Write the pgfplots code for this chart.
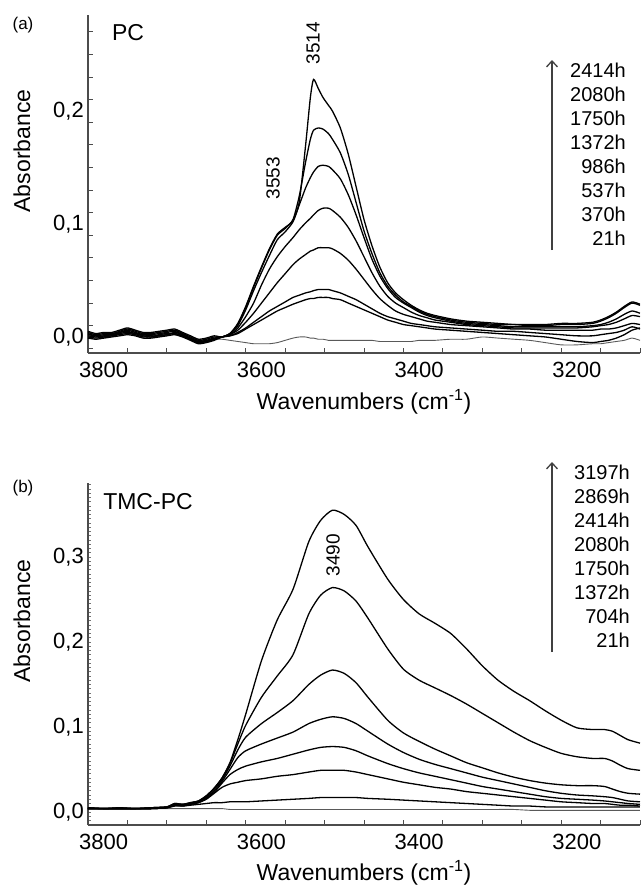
\documentclass[border=0pt]{standalone}
\usepackage{fontspec}
\setmainfont{Liberation Sans}
\usepackage{pgfplots}
\usepackage{pgfplotstable}
\pgfplotsset{compat=1.18}
\usetikzlibrary{arrows.meta}

\pgfplotstableread{
x h2414 h2080 h1750 h1372 h986 h537 h370 h21
3800 .005 .004 .003 .002 .001 .000 -.001 .002
3790 .003 .002 .001 .001 .000 -.001 -.002 .001
3780 .004 .003 .002 .000 .001 .000 -.001 .001
3770 .004 .003 .002 .001 .002 .001 .000 .002
3760 .006 .005 .004 .003 .004 .002 .001 .003
3750 .008 .007 .006 .004 .005 .003 .002 .004
3740 .006 .005 .004 .003 .003 .002 .001 .002
3730 .004 .003 .002 .001 .002 .000 -.001 .001
3720 .004 .003 .002 .000 .001 .000 -.001 .001
3710 .005 .004 .003 .002 .001 .001 .000 .002
3700 .006 .005 .004 .003 .002 .002 .001 .003
3690 .007 .006 .005 .003 .004 .003 .002 .003
3680 .004 .003 .002 .001 .002 .001 .000 .001
3670 .001 .000 -.001 -.002 -.002 -.002 -.003 -.001
3660 -.002 -.003 -.004 -.005 -.004 -.005 -.006 -.003
3650 -.001 -.002 -.003 -.004 -.004 -.004 -.005 -.003
3640 .001 .000 -.001 -.002 -.002 -.002 -.003 -.002
3630 .000 .000 .000 .000 .000 .000 .000 -.002
3620 .003 .003 .003 .002 .002 .001 .001 -.003
3610 .012 .011 .010 .008 .006 .004 .003 -.004
3600 .027 .026 .024 .018 .013 .008 .007 -.005
3590 .045 .044 .041 .030 .021 .013 .011 -.006
3580 .062 .061 .057 .046 .030 .018 .015 -.006
3570 .078 .077 .072 .060 .039 .023 .019 -.006
3560 .091 .090 .086 .071 .048 .027 .023 -.005
3550 .097 .096 .093 .080 .056 .031 .026 -.003
3540 .103 .104 .102 .088 .064 .035 .029 -.001
3532 .120 .125 .117 .095 .069 .037 .031 .000
3524 .170 .155 .132 .101 .073 .039 .033 .000
3518 .212 .175 .141 .105 .076 .040 .034 -.001
3514 .228 .183 .146 .108 .077 .041 .034 -.001
3508 .220 .185 .151 .112 .079 .042 .035 -.002
3502 .212 .184 .152 .114 .079 .042 .035 -.002
3495 .205 .180 .151 .114 .079 .042 .035 -.003
3490 .200 .175 .148 .112 .078 .041 .034 -.003
3480 .185 .163 .140 .106 .074 .039 .033 -.003
3470 .162 .144 .126 .097 .068 .036 .030 -.003
3460 .133 .119 .108 .085 .060 .033 .027 -.003
3450 .104 .094 .088 .071 .051 .029 .024 -.003
3440 .081 .074 .069 .057 .042 .025 .021 -.003
3430 .062 .057 .054 .045 .034 .021 .018 -.004
3420 .048 .045 .043 .036 .028 .018 .015 -.004
3410 .039 .037 .035 .030 .023 .016 .013 -.004
3400 .033 .031 .030 .026 .020 .014 .011 -.004
3390 .028 .027 .026 .022 .018 .012 .010 -.004
3380 .024 .023 .022 .019 .016 .011 .009 -.003
3370 .021 .020 .019 .017 .014 .010 .008 -.003
3360 .019 .018 .017 .015 .013 .009 .007 -.003
3340 .016 .015 .014 .013 .011 .008 .006 -.002
3320 .014 .013 .012 .011 .010 .007 .005 -.002
3300 .013 .012 .011 .010 .009 .006 .004 .000
3280 .012 .011 .010 .009 .008 .005 .003 -.001
3260 .011 .011 .009 .008 .007 .005 .002 -.002
3240 .011 .010 .009 .008 .007 .004 .001 -.003
3220 .011 .010 .009 .008 .006 .003 .000 -.005
3200 .012 .011 .009 .008 .006 .002 -.002 -.007
3180 .012 .011 .009 .008 .006 .001 -.004 -.007
3160 .013 .012 .010 .009 .006 .001 -.005 -.006
3150 .015 .014 .011 .010 .007 .002 -.004 -.006
3140 .018 .017 .013 .011 .007 .003 -.003 -.005
3130 .022 .021 .016 .013 .008 .004 -.001 -.004
3120 .027 .026 .020 .016 .010 .006 .002 -.003
3110 .031 .030 .023 .019 .012 .009 .006 -.001
3100 .029 .028 .021 .018 .011 .007 .008 -.003
}\pcdata

\pgfplotstableread{
x h3197 h2869 h2414 h2080 h1750 h1372 h704 h21
3800 .005 .005 .005 .004 .004 .004 .004 .004
3780 .004 .004 .004 .004 .004 .004 .004 .004
3760 .005 .005 .004 .004 .004 .004 .004 .004
3740 .004 .004 .004 .004 .004 .004 .004 .004
3720 .005 .005 .005 .004 .004 .004 .004 .004
3700 .006 .006 .006 .005 .005 .005 .005 .004
3690 .010 .010 .009 .009 .008 .008 .007 .004
3680 .009 .009 .009 .008 .008 .007 .007 .004
3670 .011 .011 .010 .010 .009 .009 .008 .004
3660 .013 .013 .012 .012 .011 .011 .009 .004
3650 .019 .019 .018 .017 .016 .015 .010 .004
3640 .028 .028 .027 .025 .023 .022 .011 .004
3630 .040 .040 .038 .036 .034 .029 .011 .004
3620 .058 .057 .054 .050 .044 .033 .012 .003
3610 .085 .080 .073 .064 .050 .035 .012 .003
3600 .115 .102 .088 .072 .054 .037 .012 .003
3580 .178 .135 .104 .080 .059 .039 .013 .003
3560 .226 .160 .117 .087 .063 .042 .014 .003
3540 .262 .185 .131 .094 .068 .044 .015 .003
3520 .318 .233 .150 .104 .073 .047 .016 .003
3505 .343 .255 .161 .109 .076 .049 .017 .003
3490 .355 .264 .167 .112 .077 .049 .017 .003
3475 .350 .260 .163 .110 .076 .049 .017 .003
3460 .337 .248 .152 .104 .072 .047 .017 .003
3445 .312 .228 .135 .095 .066 .044 .016 .003
3420 .274 .192 .108 .080 .057 .039 .015 .003
3400 .250 .168 .093 .070 .051 .035 .014 .003
3380 .233 .155 .083 .062 .046 .032 .013 .003
3360 .222 .146 .074 .056 .042 .029 .012 .003
3340 .210 .137 .066 .051 .038 .027 .011 .003
3320 .192 .127 .058 .046 .034 .024 .010 .003
3300 .172 .116 .052 .041 .030 .022 .009 .003
3280 .155 .105 .046 .037 .027 .020 .008 .003
3260 .142 .094 .041 .033 .024 .018 .007 .003
3240 .131 .084 .037 .029 .021 .016 .007 .002
3220 .119 .076 .034 .025 .018 .014 .006 .002
3200 .108 .069 .032 .022 .016 .012 .006 .002
3180 .099 .065 .031 .020 .015 .011 .006 .002
3160 .097 .063 .031 .019 .014 .010 .006 .002
3145 .097 .063 .030 .018 .013 .010 .006 .002
3135 .095 .060 .027 .017 .012 .009 .006 .002
3125 .090 .055 .024 .015 .011 .008 .006 .002
3115 .085 .051 .022 .013 .010 .008 .006 .002
3100 .081 .049 .021 .012 .009 .007 .006 .002
}\tmcdata

\newcommand{\ticksize}{\fontsize{22}{24}\selectfont}
\newcommand{\labsize}{\fontsize{23}{26}\selectfont}
\newcommand{\legsize}{\fontsize{20}{22}\selectfont}

\pgfplotsset{
  spec/.style={
    scale only axis, width=552pt,
    xmin=3100, xmax=3800, x dir=reverse,
    axis x line*=bottom, axis y line*=left,
    axis line style={line width=1.2pt, black!70},
    tick align=inside,
    major tick length=0pt, minor tick length=5pt,
    minor tick style={line width=0.9pt, black!70},
    xtick={3200,3400,3600,3800},
    xticklabels={3200,3400,3600,3800},
    minor xtick={3100,3150,...,3800},
    xticklabel style={anchor=north west, inner sep=0pt, xshift=-9pt, yshift=-9pt, font=\ticksize},
    yticklabel style={anchor=east, inner sep=0pt, xshift=-4pt, font=\ticksize},
    clip=false,
  },
  crv/.style={black, line width=1.3pt, smooth, tension=0.4},
  low/.style={black!65, line width=0.9pt, smooth, tension=0.4},
}

\begin{document}
\begin{tikzpicture}
\useasboundingbox (0,0) rectangle (643pt,-886pt);

% ---------------- panel (a) ----------------
\begin{axis}[spec, at={(88pt,-353pt)}, anchor=south west, height=338pt,
  ymin=-0.0142, ymax=0.285,
  ytick={0,0.1,0.2}, yticklabels={{0,0},{0,1},{0,2}},
  minor ytick={-0.01,0.01,0.03,0.05,0.07,0.09,0.11,0.13,0.15,0.17,0.19,0.21,0.23,0.25,0.27}]
\addplot[low] table[x=x,y=h21]{\pcdata};
\addplot[crv] table[x=x,y=h370]{\pcdata};
\addplot[crv] table[x=x,y=h537]{\pcdata};
\addplot[crv] table[x=x,y=h986]{\pcdata};
\addplot[crv] table[x=x,y=h1372]{\pcdata};
\addplot[crv] table[x=x,y=h1750]{\pcdata};
\addplot[crv] table[x=x,y=h2080]{\pcdata};
\addplot[crv] table[x=x,y=h2414]{\pcdata};
\end{axis}

\node[font=\fontsize{17}{19}\selectfont] at (23pt,-25pt) {(a)};
\node[font=\labsize] at (128pt,-33pt) {PC};
\node[font=\fontsize{19}{21}\selectfont, rotate=90] at (313pt,-43pt) {3514};
\node[font=\fontsize{19}{21}\selectfont, rotate=90] at (273pt,-178pt) {3553};
\draw[-{Straight Barb[length=6pt,width=11pt]}, line width=1.3pt, black!75] (552pt,-250pt) -- (552pt,-60pt);
\foreach \t [count=\i from 0] in {2414h,2080h,1750h,1372h,986h,537h,370h,21h}
  \node[font=\legsize, anchor=east, inner sep=0pt] at (626pt,{-70pt-24pt*\i}) {\t};
\node[font=\labsize, rotate=90] at (22pt,-151pt) {Absorbance};
\node[font=\labsize] at (364pt,-402pt) {Wavenumbers (cm\textsuperscript{-1})};

% ---------------- panel (b) ----------------
\begin{axis}[spec, at={(88pt,-825pt)}, anchor=south west, height=342pt,
  ymin=-0.0153, ymax=0.387,
  ytick={0,0.1,0.2,0.3}, yticklabels={{0,0},{0,1},{0,2},{0,3}},
  minor tick length=3pt,
  minor xtick={},
  extra x ticks={3100,3150,...,3800}, extra x tick labels={},
  extra x tick style={major tick length=5pt, tick style={line width=0.9pt, black!70}},
  minor ytick={-0.015,-0.01,...,0.385},
  minor y tick style={line width=0.6pt, black!55}]
\addplot[low] table[x=x,y=h21]{\tmcdata};
\addplot[crv] table[x=x,y=h704]{\tmcdata};
\addplot[crv] table[x=x,y=h1372]{\tmcdata};
\addplot[crv] table[x=x,y=h1750]{\tmcdata};
\addplot[crv] table[x=x,y=h2080]{\tmcdata};
\addplot[crv] table[x=x,y=h2414]{\tmcdata};
\addplot[crv] table[x=x,y=h2869]{\tmcdata};
\addplot[crv] table[x=x,y=h3197]{\tmcdata};
\end{axis}

\node[font=\fontsize{17}{19}\selectfont] at (23pt,-488pt) {(b)};
\node[font=\labsize] at (148pt,-502pt) {TMC-PC};
\node[font=\fontsize{19}{21}\selectfont, rotate=90] at (333pt,-555pt) {3490};
\draw[-{Straight Barb[length=6pt,width=11pt]}, line width=1.3pt, black!75] (552pt,-652pt) -- (552pt,-462pt);
\foreach \t [count=\i from 0] in {3197h,2869h,2414h,2080h,1750h,1372h,704h,21h}
  \node[font=\legsize, anchor=east, inner sep=0pt] at (630pt,{-472pt-24pt*\i}) {\t};
\node[font=\labsize, rotate=90] at (22pt,-621pt) {Absorbance};
\node[font=\labsize] at (364pt,-873pt) {Wavenumbers (cm\textsuperscript{-1})};
\end{tikzpicture}
\end{document}
